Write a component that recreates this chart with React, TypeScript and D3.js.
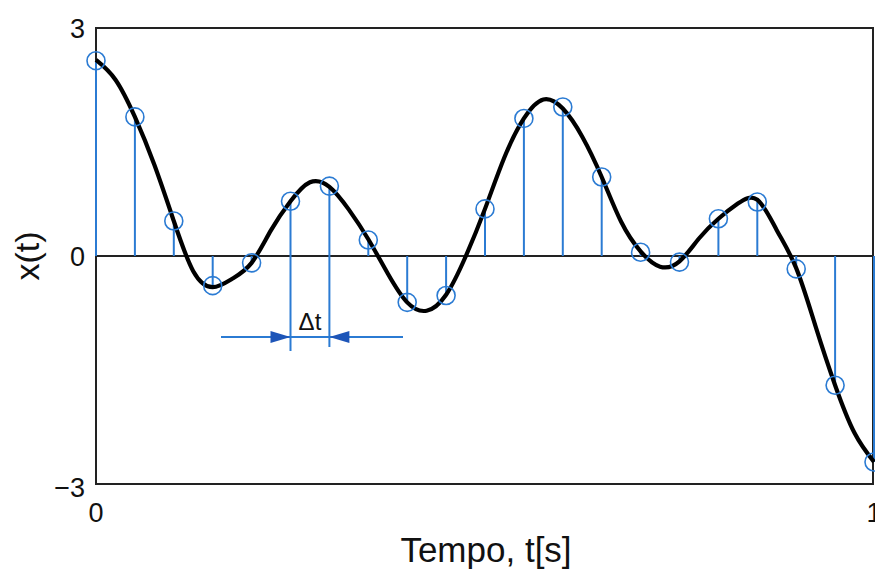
import React from "react";
import * as d3 from "d3";

// Sampled signal (stems + circles), t = 0, 0.05, ..., 1
const sampleTimes = [0, 0.05, 0.1, 0.15, 0.2, 0.25, 0.3, 0.35, 0.4, 0.45, 0.5, 0.55, 0.6, 0.65, 0.7, 0.75, 0.8, 0.85, 0.9, 0.95, 1.0];
const sampleValues = [2.57, 1.83, 0.46, -0.39, -0.09, 0.72, 0.92, 0.21, -0.61, -0.52, 0.62, 1.81, 1.96, 1.04, 0.05, -0.08, 0.49, 0.71, -0.17, -1.7, -2.71];

// Continuous signal read at t step 0.025
const curveTimes = [
  0, 0.025, 0.05, 0.075, 0.1, 0.125, 0.15, 0.175, 0.2, 0.225, 0.25, 0.275, 0.3, 0.325, 0.35, 0.375, 0.4, 0.425, 0.45, 0.475,
  0.5, 0.525, 0.55, 0.575, 0.6, 0.625, 0.65, 0.675, 0.7, 0.725, 0.75, 0.775, 0.8, 0.825, 0.85, 0.875, 0.9, 0.925, 0.95, 0.975, 1.0,
];
const curveValues = [
  2.58, 2.32, 1.83, 1.2, 0.46, -0.2, -0.41, -0.3, -0.09, 0.34, 0.72, 0.97, 0.91, 0.61, 0.22, -0.23, -0.61, -0.72, -0.51, -0.01,
  0.62, 1.3, 1.81, 2.06, 1.94, 1.57, 1.04, 0.45, 0.06, -0.14, -0.07, 0.23, 0.49, 0.69, 0.74, 0.34, -0.16, -0.93, -1.7, -2.33, -2.71,
];

const yTicks = [3, 0, -3];
const xTicks = [0, 1];
const xTickLabels = ["0", "1"];
const yTickLabels = ["3", "0", "\u22123"];
const xTitle = "Tempo, t[s]";
const yTitle = "x(t)";
const deltaLabel = "\u0394t";
const deltaStart = 0.25;
const deltaEnd = 0.3;

const W = 875;
const H = 569;
const FONT = "'Liberation Sans', Arial, Helvetica, sans-serif";
const BLUE = "#2b7bd3";
const DARK = "#222222";

export default function App() {
  const x = d3.scaleLinear().domain([0, 1]).range([96, 874]);
  const y = d3.scaleLinear().domain([-3, 3]).range([484, 28]);

  const line = d3
    .line<number>()
    .x((_, i) => x(curveTimes[i]))
    .y((d) => y(d))
    .curve(d3.curveNatural);

  const arrowY = 337;
  const xa = x(deltaStart);
  const xb = x(deltaEnd);

  return (
    <svg width={W} height={H} style={{ position: "absolute", left: 0, top: 0, background: "#fff" }}>
      {/* frame */}
      <rect x={x(0)} y={y(3)} width={x(1) - x(0) - 1} height={y(-3) - y(3)} fill="none" stroke={DARK} strokeWidth={2} />
      {/* zero line */}
      <line x1={x(0)} x2={x(1)} y1={y(0)} y2={y(0)} stroke={DARK} strokeWidth={2} />

      {/* stems */}
      {sampleValues.map((v, i) => (
        <line key={"s" + i} x1={x(sampleTimes[i])} x2={x(sampleTimes[i])} y1={y(0)} y2={y(v)} stroke={BLUE} strokeWidth={2} />
      ))}

      {/* continuous curve */}
      <path d={line(curveValues) || ""} fill="none" stroke="#000" strokeWidth={4.2} strokeLinejoin="round" />

      {/* sample circles */}
      {sampleValues.map((v, i) => (
        <circle key={"c" + i} cx={x(sampleTimes[i])} cy={y(v)} r={9} fill="none" stroke={BLUE} strokeWidth={1.6} />
      ))}

      {/* delta t annotation */}
      <line x1={xa} x2={xa} y1={y(0)} y2={351} stroke={BLUE} strokeWidth={2} />
      <line x1={xb} x2={xb} y1={y(0)} y2={347} stroke={BLUE} strokeWidth={2} />
      <line x1={221} x2={403} y1={arrowY} y2={arrowY} stroke={BLUE} strokeWidth={2} />
      <path d={`M${xa},${arrowY} L${xa - 20},${arrowY - 6} L${xa - 20},${arrowY + 6} Z`} fill="#1d55b8" />
      <path d={`M${xb},${arrowY} L${xb + 20},${arrowY - 6} L${xb + 20},${arrowY + 6} Z`} fill="#1d55b8" />
      <text x={(xa + xb) / 2} y={330} textAnchor="middle" fontFamily={FONT} fontSize={24} fill="#111">
        {deltaLabel}
      </text>

      {/* y tick labels */}
      {yTicks.map((t, i) => (
        <text key={"yt" + i} x={85} y={y(t) + (t === -3 ? 13 : 10)} textAnchor="end" fontFamily={FONT} fontSize={27} fill="#111">
          {yTickLabels[i]}
        </text>
      ))}
      {/* x tick labels */}
      {xTicks.map((t, i) => (
        <text key={"xt" + i} x={x(t)} y={522} textAnchor="middle" fontFamily={FONT} fontSize={27} fill="#111">
          {xTickLabels[i]}
        </text>
      ))}

      {/* axis titles */}
      <text x={486} y={562} textAnchor="middle" fontFamily={FONT} fontSize={35} fill="#111">
        {xTitle}
      </text>
      <text transform={`translate(39,256) rotate(-90)`} textAnchor="middle" fontFamily={FONT} fontSize={34} fill="#111">
        {yTitle}
      </text>
    </svg>
  );
}
